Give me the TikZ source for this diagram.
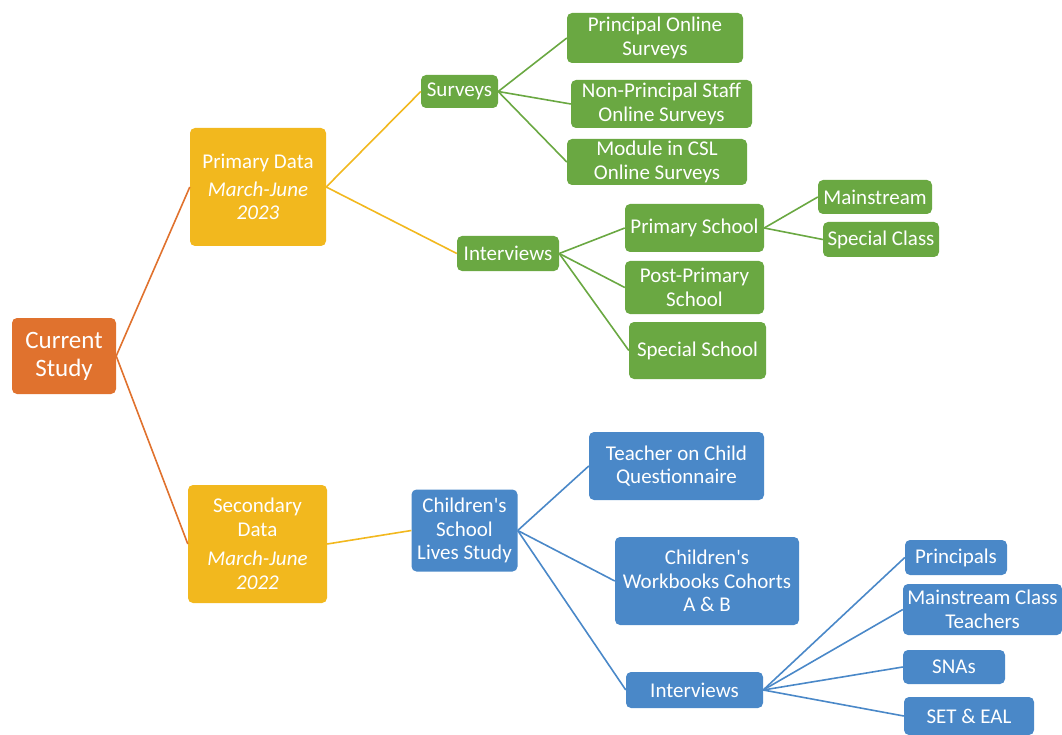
\documentclass[tikz,border=0pt]{standalone}
\usepackage{fontspec}
\setmainfont{Carlito}
\definecolor{corange}{RGB}{224,114,46}
\definecolor{cyellow}{RGB}{242,184,30}
\definecolor{cgreen}{RGB}{106,168,66}
\definecolor{cblue}{RGB}{74,136,200}
\newcommand{\apos}{\textquotesingle}
\begin{document}
\begin{tikzpicture}[x=1pt,y=-1pt,
  box/.style={rounded corners=5pt, text=white, align=center, inner sep=0pt,
     font=\fontsize{21}{23.5}\selectfont},
  ob/.style={box, fill=corange, font=\fontsize{25}{28}\selectfont},
  yb/.style={box, fill=cyellow},
  gb/.style={box, fill=cgreen},
  bb/.style={box, fill=cblue},
  ol/.style={draw=corange, line width=1.6pt},
  yl/.style={draw=cyellow, line width=1.6pt},
  gl/.style={draw=cgreen, line width=1.6pt},
  bl/.style={draw=cblue, line width=1.6pt}]
\useasboundingbox (0,0) rectangle (1062,735);
% nodes
\node[ob, minimum width=104, minimum height=76] (cs) at (64,356) {Current\\Study};
\node[yb, minimum width=136, minimum height=118] (pd) at (258,187) {Primary Data\\[4pt]\textit{March-June}\\\textit{2023}};
\node[yb, minimum width=139, minimum height=118] (sd) at (257.5,544) {Secondary\\Data\\[6pt]\textit{March-June}\\\textit{2022}};
\node[gb, minimum width=77, minimum height=33] (sv) at (459.5,91.5) {Surveys};
\node[gb, minimum width=176, minimum height=50] (pos) at (655,38) {Principal Online\\Surveys};
\node[gb, minimum width=181, minimum height=48] (nps) at (661.5,104) {Non-Principal Staff\\Online Surveys};
\node[gb, minimum width=180, minimum height=46] (mcsl) at (657,162) {Module in CSL\\Online Surveys};
\node[gb, minimum width=102, minimum height=35] (giv) at (508,253.5) {Interviews};
\node[gb, minimum width=139, minimum height=48] (ps) at (694.5,228) {Primary School};
\node[gb, minimum width=139, minimum height=53] (pps) at (694.5,287.5) {Post-Primary\\School};
\node[gb, minimum width=137, minimum height=57] (ss) at (697.5,350.5) {Special School};
\node[gb, minimum width=114, minimum height=34] (ms) at (875,197) {Mainstream};
\node[gb, minimum width=116, minimum height=35] (sc) at (881,239.5) {Special Class};
\node[bb, minimum width=106, minimum height=82] (csls) at (464.5,530.5) {Children\apos s\\School\\Lives Study};
\node[bb, minimum width=175, minimum height=68] (tcq) at (676.5,466) {Teacher on Child\\Questionnaire};
\node[bb, minimum width=184, minimum height=88] (cwb) at (707,581) {Children\apos s\\Workbooks Cohorts\\A \& B};
\node[bb, minimum width=137, minimum height=36] (biv) at (694.5,690) {Interviews};
\node[bb, minimum width=102, minimum height=35] (pr) at (956,557.5) {Principals};
\node[bb, minimum width=159, minimum height=51] (mct) at (982.5,609.5) {Mainstream Class\\Teachers};
\node[bb, minimum width=102, minimum height=34] (sna) at (954,667) {SNAs};
\node[bb, minimum width=130, minimum height=38] (set) at (969,716) {SET \& EAL};
% connectors
\draw[ol] (cs.east) -- (pd.west);
\draw[ol] (cs.east) -- (sd.west);
\draw[yl] (pd.east) -- (sv.west);
\draw[yl] (pd.east) -- (giv.west);
\draw[yl] (sd.east) -- (csls.west);
\draw[gl] (sv.east) -- (pos.west);
\draw[gl] (sv.east) -- (nps.west);
\draw[gl] (sv.east) -- (mcsl.west);
\draw[gl] (giv.east) -- (ps.west);
\draw[gl] (giv.east) -- (pps.west);
\draw[gl] (giv.east) -- (ss.west);
\draw[gl] (ps.east) -- (ms.west);
\draw[gl] (ps.east) -- (sc.west);
\draw[bl] (csls.east) -- (tcq.west);
\draw[bl] (csls.east) -- (cwb.west);
\draw[bl] (csls.east) -- (biv.west);
\draw[bl] (biv.east) -- (pr.west);
\draw[bl] (biv.east) -- (mct.west);
\draw[bl] (biv.east) -- (sna.west);
\draw[bl] (biv.east) -- (set.west);
\end{tikzpicture}
\end{document}
